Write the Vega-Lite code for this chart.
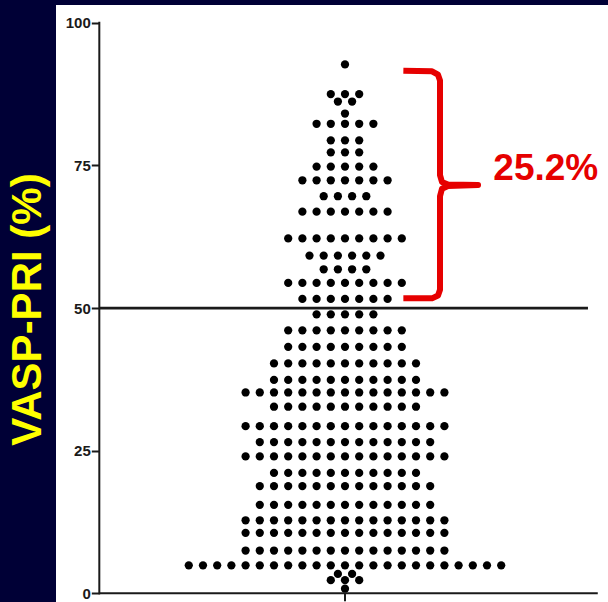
{
  "$schema": "https://vega.github.io/schema/vega-lite/v6.json",
  "width": 552,
  "height": 597,
  "padding": {"left": 56, "top": 5, "right": 0, "bottom": 0},
  "autosize": {"type": "none"},
  "background": "#000036",
  "view": {"fill": "white", "stroke": null},
  "config": {"font": "Liberation Sans"},
  "layer": [
    {
      "data": {"values": [
        {"vasp":92.7},
        {"vasp":87.5},{"vasp":87.5},{"vasp":87.5},
        {"vasp":86.2},{"vasp":86.2},
        {"vasp":84.1},
        {"vasp":82.3},{"vasp":82.3},{"vasp":82.3},{"vasp":82.3},{"vasp":82.3},
        {"vasp":79.4},{"vasp":79.4},{"vasp":79.4},
        {"vasp":77.3},{"vasp":77.3},{"vasp":77.3},
        {"vasp":74.8},{"vasp":74.8},{"vasp":74.8},{"vasp":74.8},{"vasp":74.8},
        {"vasp":72.4},{"vasp":72.4},{"vasp":72.4},{"vasp":72.4},{"vasp":72.4},{"vasp":72.4},{"vasp":72.4},
        {"vasp":69.6},{"vasp":69.6},{"vasp":69.6},{"vasp":69.6},
        {"vasp":66.9},{"vasp":66.9},{"vasp":66.9},{"vasp":66.9},{"vasp":66.9},{"vasp":66.9},{"vasp":66.9},
        {"vasp":62.2},{"vasp":62.2},{"vasp":62.2},{"vasp":62.2},{"vasp":62.2},{"vasp":62.2},{"vasp":62.2},{"vasp":62.2},{"vasp":62.2},
        {"vasp":59.2},{"vasp":59.2},{"vasp":59.2},{"vasp":59.2},{"vasp":59.2},{"vasp":59.2},
        {"vasp":56.8},{"vasp":56.8},{"vasp":56.8},{"vasp":56.8},
        {"vasp":54.4},{"vasp":54.4},{"vasp":54.4},{"vasp":54.4},{"vasp":54.4},{"vasp":54.4},{"vasp":54.4},{"vasp":54.4},{"vasp":54.4},
        {"vasp":51.6},{"vasp":51.6},{"vasp":51.6},{"vasp":51.6},{"vasp":51.6},{"vasp":51.6},{"vasp":51.6},
        {"vasp":48.9},{"vasp":48.9},{"vasp":48.9},{"vasp":48.9},{"vasp":48.9},
        {"vasp":46.1},{"vasp":46.1},{"vasp":46.1},{"vasp":46.1},{"vasp":46.1},{"vasp":46.1},{"vasp":46.1},{"vasp":46.1},{"vasp":46.1},
        {"vasp":43.2},{"vasp":43.2},{"vasp":43.2},{"vasp":43.2},{"vasp":43.2},{"vasp":43.2},{"vasp":43.2},{"vasp":43.2},{"vasp":43.2},
        {"vasp":40.3},{"vasp":40.3},{"vasp":40.3},{"vasp":40.3},{"vasp":40.3},{"vasp":40.3},{"vasp":40.3},{"vasp":40.3},{"vasp":40.3},{"vasp":40.3},{"vasp":40.3},
        {"vasp":37.4},{"vasp":37.4},{"vasp":37.4},{"vasp":37.4},{"vasp":37.4},{"vasp":37.4},{"vasp":37.4},{"vasp":37.4},{"vasp":37.4},{"vasp":37.4},{"vasp":37.4},
        {"vasp":35.2},{"vasp":35.2},{"vasp":35.2},{"vasp":35.2},{"vasp":35.2},{"vasp":35.2},{"vasp":35.2},{"vasp":35.2},{"vasp":35.2},{"vasp":35.2},{"vasp":35.2},{"vasp":35.2},{"vasp":35.2},{"vasp":35.2},{"vasp":35.2},
        {"vasp":32.7},{"vasp":32.7},{"vasp":32.7},{"vasp":32.7},{"vasp":32.7},{"vasp":32.7},{"vasp":32.7},{"vasp":32.7},{"vasp":32.7},{"vasp":32.7},{"vasp":32.7},
        {"vasp":29.3},{"vasp":29.3},{"vasp":29.3},{"vasp":29.3},{"vasp":29.3},{"vasp":29.3},{"vasp":29.3},{"vasp":29.3},{"vasp":29.3},{"vasp":29.3},{"vasp":29.3},{"vasp":29.3},{"vasp":29.3},{"vasp":29.3},{"vasp":29.3},
        {"vasp":26.5},{"vasp":26.5},{"vasp":26.5},{"vasp":26.5},{"vasp":26.5},{"vasp":26.5},{"vasp":26.5},{"vasp":26.5},{"vasp":26.5},{"vasp":26.5},{"vasp":26.5},{"vasp":26.5},{"vasp":26.5},
        {"vasp":24},{"vasp":24},{"vasp":24},{"vasp":24},{"vasp":24},{"vasp":24},{"vasp":24},{"vasp":24},{"vasp":24},{"vasp":24},{"vasp":24},{"vasp":24},{"vasp":24},{"vasp":24},{"vasp":24},
        {"vasp":21.1},{"vasp":21.1},{"vasp":21.1},{"vasp":21.1},{"vasp":21.1},{"vasp":21.1},{"vasp":21.1},{"vasp":21.1},{"vasp":21.1},{"vasp":21.1},{"vasp":21.1},
        {"vasp":18.8},{"vasp":18.8},{"vasp":18.8},{"vasp":18.8},{"vasp":18.8},{"vasp":18.8},{"vasp":18.8},{"vasp":18.8},{"vasp":18.8},{"vasp":18.8},{"vasp":18.8},{"vasp":18.8},{"vasp":18.8},
        {"vasp":15.5},{"vasp":15.5},{"vasp":15.5},{"vasp":15.5},{"vasp":15.5},{"vasp":15.5},{"vasp":15.5},{"vasp":15.5},{"vasp":15.5},{"vasp":15.5},{"vasp":15.5},{"vasp":15.5},{"vasp":15.5},
        {"vasp":12.8},{"vasp":12.8},{"vasp":12.8},{"vasp":12.8},{"vasp":12.8},{"vasp":12.8},{"vasp":12.8},{"vasp":12.8},{"vasp":12.8},{"vasp":12.8},{"vasp":12.8},{"vasp":12.8},{"vasp":12.8},{"vasp":12.8},{"vasp":12.8},
        {"vasp":10.6},{"vasp":10.6},{"vasp":10.6},{"vasp":10.6},{"vasp":10.6},{"vasp":10.6},{"vasp":10.6},{"vasp":10.6},{"vasp":10.6},{"vasp":10.6},{"vasp":10.6},{"vasp":10.6},{"vasp":10.6},{"vasp":10.6},{"vasp":10.6},
        {"vasp":7.5},{"vasp":7.5},{"vasp":7.5},{"vasp":7.5},{"vasp":7.5},{"vasp":7.5},{"vasp":7.5},{"vasp":7.5},{"vasp":7.5},{"vasp":7.5},{"vasp":7.5},{"vasp":7.5},{"vasp":7.5},{"vasp":7.5},{"vasp":7.5},
        {"vasp":4.9},{"vasp":4.9},{"vasp":4.9},{"vasp":4.9},{"vasp":4.9},{"vasp":4.9},{"vasp":4.9},{"vasp":4.9},{"vasp":4.9},{"vasp":4.9},{"vasp":4.9},{"vasp":4.9},{"vasp":4.9},{"vasp":4.9},{"vasp":4.9},{"vasp":4.9},{"vasp":4.9},{"vasp":4.9},{"vasp":4.9},{"vasp":4.9},{"vasp":4.9},{"vasp":4.9},{"vasp":4.9},
        {"vasp":3.4},{"vasp":3.4},
        {"vasp":2.3},{"vasp":2.3},{"vasp":2.3},
        {"vasp":0.8}
      ]},
      "transform": [
        {"window": [{"op": "row_number", "as": "k"}, {"op": "count", "as": "n"}], "groupby": ["vasp"], "frame": [null, null]},
        {"calculate": "datum.k - (datum.n + 1) / 2", "as": "slot"}
      ],
      "mark": {"type": "circle", "size": 68, "color": "black", "opacity": 1},
      "encoding": {
        "x": {"field": "slot", "type": "quantitative", "scale": {"domain": [-20.35, 18.52], "nice": false, "zero": false}, "axis": null},
        "y": {
          "field": "vasp", "type": "quantitative",
          "scale": {"domain": [-1.525, 103.12], "nice": false, "zero": false},
          "axis": {
            "values": [0, 25, 50, 75, 100],
            "offset": -43.3,
            "domain": false,
            "grid": false,
            "tickSize": 8, "tickWidth": 2, "tickColor": "#1a1a1a",
            "labelFont": "Liberation Sans", "labelFontSize": 15, "labelFontWeight": "bold", "labelColor": "#1a1a1a", "labelPadding": 1,
            "title": "VASP-PRI  (%)",
            "titleColor": "#ffff00", "titleFont": "Liberation Sans", "titleFontSize": 42, "titleFontWeight": "bold",
            "titleAngle": -90, "titleX": -59.3, "titleY": 304, "titleAlign": "center", "titleBaseline": "alphabetic"
          }
        }
      }
    },
    {
      "data": {"values": [{}]},
      "mark": {"type": "rule", "color": "#1a1a1a", "strokeWidth": 2, "strokeCap": "square"},
      "encoding": {
        "x": {"datum": -17.3, "type": "quantitative"},
        "y": {"datum": 0, "type": "quantitative"},
        "y2": {"datum": 100}
      }
    },
    {
      "data": {"values": [{}]},
      "mark": {"type": "rule", "color": "#1a1a1a", "strokeWidth": 2.8},
      "encoding": {
        "x": {"datum": -17.3, "type": "quantitative"},
        "x2": {"datum": 17.11},
        "y": {"datum": 50, "type": "quantitative"}
      }
    },
    {
      "data": {"values": [{}]},
      "mark": {"type": "rule", "color": "#1a1a1a", "strokeWidth": 2},
      "encoding": {
        "x": {"datum": -17.3, "type": "quantitative"},
        "x2": {"datum": 17.8},
        "y": {"datum": 0, "type": "quantitative"}
      }
    },
    {
      "data": {"values": [{}]},
      "mark": {"type": "rule", "color": "#1a1a1a", "strokeWidth": 2},
      "encoding": {
        "x": {"datum": 0, "type": "quantitative"},
        "y": {"datum": 0, "type": "quantitative"},
        "y2": {"datum": -1.4}
      }
    },
    {
      "data": {"values": [
        {"i": 1, "bx": 4.11, "by": 91.6},
        {"i": 2, "bx": 6.13, "by": 91.5},
        {"i": 3, "bx": 6.55, "by": 90.9},
        {"i": 4, "bx": 6.69, "by": 89.9},
        {"i": 5, "bx": 6.69, "by": 73.3},
        {"i": 6, "bx": 6.83, "by": 72.1},
        {"i": 7, "bx": 7.25, "by": 71.66},
        {"i": 8, "bx": 9.37, "by": 71.57},
        {"i": 9, "bx": 7.25, "by": 71.4},
        {"i": 10, "bx": 6.83, "by": 70.9},
        {"i": 11, "bx": 6.69, "by": 69.6},
        {"i": 12, "bx": 6.69, "by": 53.2},
        {"i": 13, "bx": 6.55, "by": 52.2},
        {"i": 14, "bx": 6.13, "by": 51.7},
        {"i": 15, "bx": 4.11, "by": 51.7}
      ]},
      "mark": {"type": "line", "color": "#e60000", "strokeWidth": 6, "strokeJoin": "round"},
      "encoding": {
        "x": {"field": "bx", "type": "quantitative"},
        "y": {"field": "by", "type": "quantitative"},
        "order": {"field": "i"}
      }
    },
    {
      "data": {"values": [{"label": "25.2%"}]},
      "mark": {"type": "text", "color": "#e60000", "font": "Liberation Sans", "fontSize": 37, "fontWeight": "bold", "align": "center", "baseline": "alphabetic"},
      "encoding": {
        "x": {"datum": 14.14, "type": "quantitative"},
        "y": {"datum": 72.45, "type": "quantitative"},
        "text": {"field": "label"}
      }
    }
  ]
}
